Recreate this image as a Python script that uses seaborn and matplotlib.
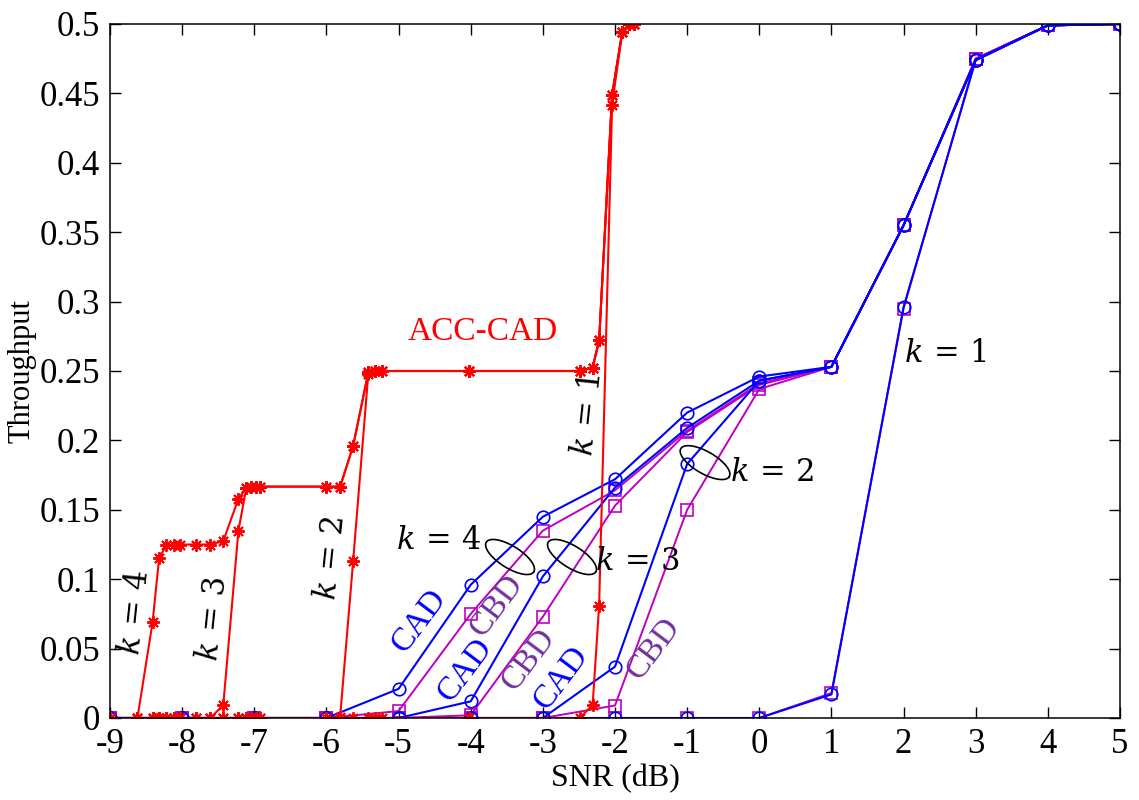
import numpy as np
import pandas as pd
import seaborn as sns
import matplotlib.pyplot as plt

# SNR grid for CAD / CBD curves
snr = [-9, -8, -7, -6, -5, -4, -3, -2, -1, 0, 1, 2, 3, 4, 5]

cad_k1 = [0, 0, 0, 0, 0, 0, 0, 0, 0, 0, 0.017, 0.296, 0.474, 0.499, 0.5]
cbd_k1 = [0, 0, 0, 0, 0, 0, 0, 0, 0, 0, 0.018, 0.295, 0.475, 0.499, 0.5]
cad_k2 = [0, 0, 0, 0, 0, 0, 0, 0.037, 0.183, 0.243, 0.253, 0.355, 0.474, 0.499, 0.5]
cbd_k2 = [0, 0, 0, 0, 0, 0, 0, 0.009, 0.150, 0.237, 0.253, 0.355, 0.475, 0.499, 0.5]
cad_k3 = [0, 0, 0, 0, 0, 0.012, 0.102, 0.166, 0.209, 0.243, 0.253, 0.355, 0.474, 0.499, 0.5]
cbd_k3 = [0, 0, 0, 0, 0, 0.002, 0.073, 0.153, 0.206, 0.240, 0.253, 0.355, 0.475, 0.499, 0.5]
cad_k4 = [0, 0, 0, 0, 0.021, 0.096, 0.145, 0.172, 0.220, 0.246, 0.253, 0.355, 0.474, 0.499, 0.5]
cbd_k4 = [0, 0, 0, 0, 0.005, 0.075, 0.135, 0.164, 0.207, 0.241, 0.253, 0.355, 0.475, 0.499, 0.5]

# ACC-CAD curves (non uniform snr grid)
acc_snr = [-9, -8.62, -8.41, -8.32, -8.22, -8.12, -8.03, -7.81, -7.61, -7.43,
           -7.22, -7.11, -7.04, -6.97, -6.92, -6.01, -5.81, -5.63, -5.42, -5.33,
           -5.23, -4.02, -2.49, -2.31, -2.22, -2.04, -1.90, -1.80, -1.74]
acc_k4 = [0, 0, 0.069, 0.115, 0.1245, 0.125, 0.125, 0.125, 0.125, 0.1275,
          0.158, 0.166, 0.1667, 0.1667, 0.1667, 0.1667, 0.1667, 0.196, 0.249, 0.25,
          0.25, 0.25, 0.25, 0.2525, 0.272, 0.449, 0.494, 0.5, 0.5]
acc_k3 = [0, 0, 0, 0, 0, 0, 0, 0, 0, 0.0094,
          0.135, 0.166, 0.1667, 0.1667, 0.1667, 0.1667, 0.1667, 0.196, 0.249, 0.25,
          0.25, 0.25, 0.25, 0.2525, 0.272, 0.449, 0.494, 0.5, 0.5]
acc_k2 = [0, 0, 0, 0, 0, 0, 0, 0, 0, 0,
          0, 0, 0, 0, 0, 0, 0.001, 0.113, 0.248, 0.25,
          0.25, 0.25, 0.25, 0.2525, 0.272, 0.449, 0.494, 0.5, 0.5]
acc_k1 = [0, 0, 0, 0, 0, 0, 0, 0, 0, 0,
          0, 0, 0, 0, 0, 0, 0, 0, 0, 0,
          0, 0, 0, 0.0094, 0.081, 0.442, 0.494, 0.5, 0.5]

xticks = list(range(-9, 6))
yticks = [0, 0.05, 0.1, 0.15, 0.2, 0.25, 0.3, 0.35, 0.4, 0.45, 0.5]
ytick_labels = ["0", "0.05", "0.1", "0.15", "0.2", "0.25", "0.3", "0.35", "0.4", "0.45", "0.5"]

sns.set_style("ticks")
plt.rcParams['font.family'] = ['Liberation Serif', 'DejaVu Serif']
plt.rcParams['mathtext.fontset'] = 'dejavuserif'
for key in ['text.color', 'axes.labelcolor', 'xtick.color', 'ytick.color', 'axes.edgecolor']:
    plt.rcParams[key] = 'black'

BLUE = "#0000ff"
MAG = "#bf00bf"
RED = "#ff0000"
PURPLE = "#7030a0"

fig = plt.figure(figsize=(11.39, 8.0), dpi=100)
ax = fig.add_axes([0.0966, 0.1025, 0.8867, 0.8675])

cbd = [cbd_k1, cbd_k2, cbd_k3, cbd_k4]
cad = [cad_k1, cad_k2, cad_k3, cad_k4]
for ys in cbd:
    sns.lineplot(x=snr, y=ys, ax=ax, color=MAG, lw=1.4, marker='s', markersize=9,
                 markerfacecolor='none', markeredgecolor=MAG, markeredgewidth=1.2,
                 estimator=None, sort=False)
for ys in cad:
    sns.lineplot(x=snr, y=ys, ax=ax, color=BLUE, lw=1.5, marker='o', markersize=9,
                 markerfacecolor='none', markeredgecolor=BLUE, markeredgewidth=1.2,
                 estimator=None, sort=False)
# matlab style asterisk markers
for ys in [acc_k1, acc_k2, acc_k3, acc_k4]:
    sns.lineplot(x=acc_snr, y=ys, ax=ax, color=RED, lw=1.5, marker=(8, 2, 0), markersize=9,
                 markerfacecolor=RED, markeredgecolor=RED, markeredgewidth=1.4,
                 estimator=None, sort=False)

ax.set_xlim(-9, 5)
ax.set_ylim(0, 0.5)
ax.set_xticks(xticks)
ax.set_xticklabels([str(v) for v in xticks])
ax.set_yticks(yticks)
ax.set_yticklabels(ytick_labels)
ax.tick_params(direction='in', length=8, width=1, top=True, right=True,
               labelsize=25, pad=7, colors='black')
for s in ax.spines.values():
    s.set_visible(True)
    s.set_color('black')
    s.set_linewidth(1.1)
ax.set_xlabel("SNR (dB)", fontsize=23, labelpad=2)
ax.set_ylabel("Throughput", fontsize=22, labelpad=2)

# annotations
ax.text(-3.83, 0.278, "ACC-CAD", color=RED, fontsize=24, ha='center', va='center')

rot_k = [(-8.64, 0.076, "4"), (-7.56, 0.071, "3"), (-5.92, 0.115, "2"), (-2.36, 0.218, "1")]
for x, y, k in rot_k:
    ax.text(x, y, "$k\\,=\\,%s$" % k, fontsize=22, rotation=84, ha='center', va='center')

hor_k = [(-4.44, 0.127, "4"), (-1.69, 0.112, "3"), (0.18, 0.176, "2"), (2.58, 0.262, "1")]
for x, y, k in hor_k:
    ax.text(x, y, "$k\\,=\\,%s$" % k, fontsize=22, ha='center', va='center')

labels = [(-4.72, 0.070, "CAD", BLUE), (-3.64, 0.081, "CBD", PURPLE),
          (-4.08, 0.035, "CAD", BLUE), (-3.19, 0.042, "CBD", PURPLE),
          (-2.75, 0.029, "CAD", BLUE), (-1.47, 0.050, "CBD", PURPLE)]
for x, y, t, c in labels:
    ax.text(x, y, t, color=c, fontsize=24, rotation=53, ha='center', va='center')

# ellipses (sizes in pixels, converted to data units)
fig.canvas.draw()
bb = ax.get_window_extent()
px_x = bb.width / 14.0
px_y = bb.height / 0.5
tt = np.linspace(0, 2 * np.pi, 100)
for cx, cy, ang in [(-3.455, 0.116, -32), (-2.596, 0.116, -32), (-0.752, 0.184, -30)]:
    a, b, th = 28, 11, np.deg2rad(ang)
    dx = a * np.cos(tt) * np.cos(th) - b * np.sin(tt) * np.sin(th)
    dy = a * np.cos(tt) * np.sin(th) + b * np.sin(tt) * np.cos(th)
    ax.plot(cx + dx / px_x, cy + dy / px_y, color='black', lw=1.2)

fig.savefig("out.png", dpi=100)
